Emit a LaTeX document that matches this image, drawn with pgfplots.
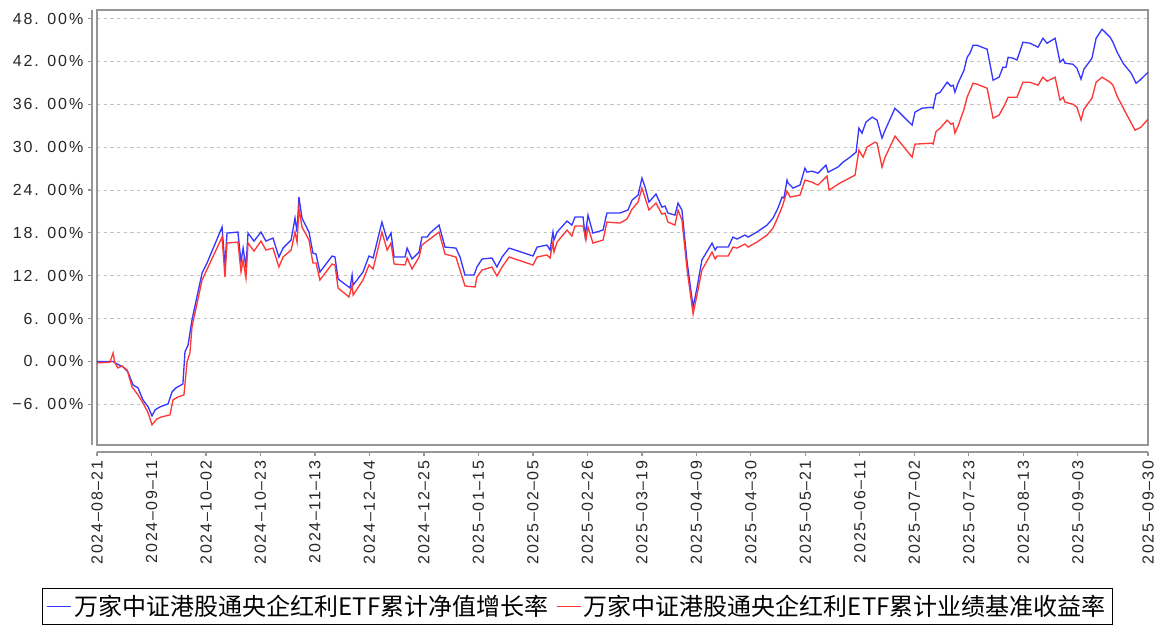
\documentclass[border=0pt]{standalone}
\usepackage{pgfplots}
\usepackage{pgfplotstable}
\pgfplotsset{compat=1.18}
\usepackage{fontspec}
\setmainfont{Liberation Sans}
\newfontfamily\tickfont[LetterSpace=12]{Liberation Sans}
\newfontfamily\cjk{Noto Sans CJK SC}
\definecolor{myblue}{RGB}{55,55,255}
\definecolor{myred}{RGB}{255,55,55}
\definecolor{framegray}{RGB}{150,150,150}
\definecolor{gridgray}{RGB}{195,195,195}
\newcommand{\dd}{\kern1pt–\kern1pt}

\pgfplotstableread{
day val
0 0
6.2 0
7.7 -0.35
10.0 -0.77
11.9 -1.47
13.9 -3.29
15.8 -3.71
17.7 -5.38
19.7 -6.36
21.2 -7.62
22.4 -6.78
24.3 -6.36
27.4 -5.94
28.9 -4.27
30.4 -3.71
33.1 -3.15
33.9 1.33
35.1 2.31
36.6 5.80
38.5 9.02
40.5 12.38
42.4 13.78
48.2 18.81
49.3 13.36
50.1 17.97
54.3 18.11
55.5 13.92
56.3 15.87
57.4 13.22
58.2 17.97
60.5 16.85
63.2 18.11
65.1 16.85
67.8 17.27
70.1 14.62
71.7 15.87
74.8 16.99
76.3 20.07
77.1 18.11
77.8 23.01
79.0 20.07
81.7 18.11
83.2 15.17
84.4 15.03
85.9 12.52
90.6 14.76
91.7 14.62
92.9 11.54
97.5 10.28
98.3 12.10
98.7 10.70
100.2 11.40
102.5 12.52
104.8 14.76
106.4 14.48
109.8 19.51
111.8 16.99
113.3 17.97
114.5 14.62
118.7 14.62
119.5 15.87
121.4 14.34
124.1 15.31
125.2 17.41
127.2 17.41
128.3 17.97
131.8 19.09
134.1 16.01
138.3 15.87
139.9 14.62
141.8 12.10
145.3 12.10
146.4 13.22
148.4 14.34
152.2 14.48
154.1 13.22
156.1 14.62
158.8 15.87
168.0 14.76
169.6 16.01
173.4 16.29
174.6 15.59
175.7 18.11
176.1 16.99
177.3 18.11
181.1 19.65
183.0 19.09
184.2 20.21
187.3 20.21
188.1 17.55
189.2 20.49
191.1 17.97
195.0 18.39
196.5 20.77
201.5 20.77
203.5 21.05
204.6 21.19
206.2 22.59
208.5 23.29
210.0 25.66
211.2 24.41
212.7 22.31
215.4 23.43
217.7 21.61
218.9 21.75
220.0 20.77
222.7 20.49
223.9 22.17
225.4 21.19
227.4 13.92
229.7 7.62
231.2 10.28
233.1 14.20
237.0 16.57
238.2 15.59
238.9 16.01
243.2 16.01
245.1 17.41
246.6 17.13
249.7 17.69
250.9 17.41
254.3 18.11
258.2 19.09
260.5 20.07
262.4 21.47
264.0 23.01
264.7 22.87
265.9 25.38
266.3 24.97
268.2 24.27
270.9 24.69
272.8 27.06
273.6 26.50
275.5 26.64
277.8 26.36
280.9 27.48
281.7 26.50
285.5 27.20
287.5 27.90
290.2 28.60
292.5 29.30
293.6 32.66
294.8 31.96
296.3 33.50
298.7 34.20
300.6 33.78
302.5 31.26
303.7 32.38
307.5 35.45
314.1 33.08
315.2 34.90
317.9 35.45
321.8 35.59
322.2 35.45
323.3 37.41
324.9 37.69
327.6 39.09
329.1 38.53
329.9 38.67
330.6 37.69
331.8 38.95
334.1 40.77
335.3 42.59
336.4 43.15
337.6 44.27
339.1 44.27
343.0 43.71
345.3 39.37
347.6 39.79
349.1 41.19
350.3 41.19
351.1 42.59
353.0 42.45
354.5 42.20
356.8 44.69
359.5 44.55
362.6 43.99
364.5 45.24
366.1 44.55
369.2 45.24
371.1 41.89
372.3 42.31
373.0 41.75
376.1 41.61
377.6 41.05
379.2 39.51
380.3 40.91
383.4 42.45
385.0 45.24
387.3 46.50
390.4 45.38
391.5 44.69
393.1 43.29
395.4 41.75
398.5 40.35
400.4 38.95
401.9 39.37
405 40.49
}\navtable

\pgfplotstableread{
day val
0 -0.21
5.0 -0.10
6.2 1.19
6.9 -0.21
8.1 -0.91
9.6 -0.63
11.6 -1.19
13.5 -3.57
15.8 -4.69
17.7 -5.80
19.7 -7.20
21.2 -8.88
23.1 -8.04
25.0 -7.76
28.1 -7.48
29.3 -5.38
31.2 -4.97
33.5 -4.69
34.7 -0.07
35.8 1.19
36.6 4.83
40.5 11.40
48.2 17.41
49.3 11.82
50.1 16.57
54.3 16.71
55.5 12.52
56.3 14.20
57.4 11.68
58.2 16.57
60.5 15.45
63.2 16.85
65.1 15.59
67.8 15.87
70.1 13.22
71.7 14.62
74.8 15.59
76.3 18.11
77.1 16.71
77.8 21.47
79.0 18.81
81.7 16.99
83.2 13.78
84.4 13.78
85.9 11.40
90.6 13.64
91.7 13.50
92.9 10.28
97.1 9.02
98.3 10.70
98.7 9.30
102.5 11.40
104.8 13.50
106.4 12.94
109.8 18.11
111.8 15.59
113.3 16.57
114.5 13.64
118.7 13.50
119.5 14.48
121.4 12.94
124.1 14.62
125.2 16.29
131.8 18.11
134.1 15.03
138.3 14.62
141.8 10.56
145.7 10.42
146.4 11.82
148.4 12.80
152.2 13.22
154.1 11.96
156.1 13.22
158.8 14.62
168.0 13.50
169.6 14.62
173.4 14.90
174.6 14.48
175.7 16.71
176.1 15.31
177.3 16.71
181.1 18.39
183.0 17.55
184.2 18.95
187.3 18.95
188.4 16.99
189.2 18.81
191.1 16.57
195.0 16.99
196.5 19.51
201.5 19.37
204.2 19.93
206.2 21.33
208.5 22.31
210.0 24.27
212.7 21.19
215.4 22.17
217.7 20.63
218.9 20.77
220.0 19.51
222.7 19.09
223.9 21.19
225.4 19.79
227.4 12.80
229.7 6.64
231.2 9.30
233.1 12.80
237.0 15.31
238.2 14.34
238.9 14.76
243.2 14.76
245.1 16.01
246.6 15.87
249.7 16.43
250.9 16.01
254.3 16.71
258.2 17.69
260.5 18.67
262.4 20.21
264.0 21.61
265.9 23.85
267.1 23.01
270.9 23.29
272.8 25.38
275.5 25.10
277.8 24.69
281.3 25.94
282.1 23.99
286.3 24.97
292.1 26.08
293.6 29.58
295.2 28.60
296.7 30.00
299.8 30.70
300.6 30.56
302.5 27.20
303.7 28.60
307.5 31.54
314.1 28.60
315.2 30.42
321.8 30.56
322.2 30.42
323.3 32.17
324.9 32.66
327.6 33.78
329.1 33.22
329.9 33.36
330.6 31.96
331.8 32.94
334.1 35.31
335.3 36.99
337.6 38.95
339.1 38.81
343.0 38.25
345.3 34.06
347.6 34.48
349.5 35.73
351.1 36.99
354.5 36.99
356.8 39.09
359.5 39.09
362.6 38.67
364.5 39.79
366.1 39.23
369.2 39.79
371.1 36.57
372.3 36.99
373.0 36.29
376.1 36.01
377.6 35.59
379.2 33.78
380.3 35.31
383.4 36.85
385.0 39.09
387.3 39.79
390.4 39.09
391.5 38.67
393.1 37.13
396.9 34.48
400.0 32.38
402.3 32.80
405 33.92
}\benchtable

\begin{document}
\begin{tikzpicture}
\path[use as bounding box] (0,0) rectangle (873pt,469.5pt);
\begin{axis}[
  at={(72.75pt,135.75pt)}, anchor=south west,
  scale only axis, width=788.25pt, height=326.25pt,
  xmin=0, xmax=405, ymin=-11.7, ymax=49.2,
  axis x line*=bottom, axis y line*=left,
  axis x line shift=5.25pt, axis y line shift=3.75pt,
  axis line style={framegray, line width=1pt},
  tick align=outside, major tick length=3pt,
  tick style={framegray, line width=0.8pt},
  clip mode=individual,
  xtick={0,21,42,63,84,105,126,147,168,189,210,231,252,273,294,315,336,357,378,405},
  xticklabels={2024\dd08\dd21,2024\dd09\dd11,2024\dd10\dd02,2024\dd10\dd23,2024\dd11\dd13,2024\dd12\dd04,2024\dd12\dd25,2025\dd01\dd15,2025\dd02\dd05,2025\dd02\dd26,2025\dd03\dd19,2025\dd04\dd09,2025\dd04\dd30,2025\dd05\dd21,2025\dd06\dd11,2025\dd07\dd02,2025\dd07\dd23,2025\dd08\dd13,2025\dd09\dd03,2025\dd09\dd30},
  ytick={-6,0,6,12,18,24,30,36,42,48},
  yticklabels={{−6. 00\%},{0. 00\%},{6. 00\%},{12. 00\%},{18. 00\%},{24. 00\%},{30. 00\%},{36. 00\%},{42. 00\%},{48. 00\%}},
  tick label style={font=\tickfont\fontsize{12}{14}\selectfont, text=black!85},
  xticklabel style={rotate=90, anchor=east},
  ymajorgrids,
  grid style={gridgray, dash pattern=on 2.5pt off 2.5pt, line width=0.6pt},
  legend style={at={(-0.0523,-0.3287)}, anchor=north west, legend columns=2,
    draw=black, line width=0.8pt, font=\cjk\fontsize{18}{21}\selectfont,
    inner xsep=3pt, inner ysep=3pt,
    /tikz/every even column/.append style={column sep=3.75pt}},
  legend cell align=left,
  legend image code/.code={\path (0pt,0pt) -- (18pt,0pt);\draw[#1, line width=1pt] (3pt,0pt) -- (15pt,0pt);},
]
\draw[framegray, line width=1.1pt] (rel axis cs:0,0) rectangle (rel axis cs:1,1);
\addplot[draw=myblue, line width=1pt] table[x=day, y=val] {\navtable};
\addlegendentry{万家中证港股通央企红利ETF累计净值增长率}
\addplot[draw=myred, line width=1pt] table[x=day, y=val] {\benchtable};
\addlegendentry{万家中证港股通央企红利ETF累计业绩基准收益率}
\end{axis}
\end{tikzpicture}
\end{document}
